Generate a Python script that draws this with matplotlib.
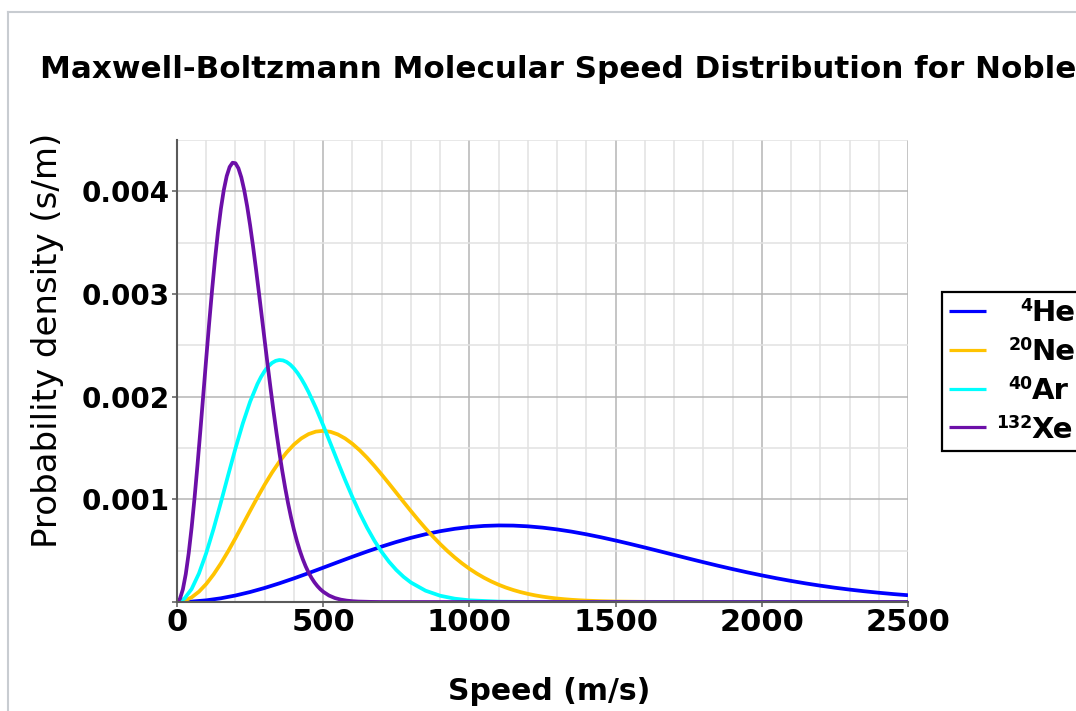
import matplotlib
matplotlib.use("Agg")
import matplotlib.pyplot as plt
from matplotlib.lines import Line2D
from matplotlib.ticker import MultipleLocator, FixedLocator, FuncFormatter

# Molecular speed distributions at room temperature (speed in m/s, density in s/m)
he_speed = [0, 50, 100, 150, 200, 250, 300, 350, 400, 450, 500, 550, 600, 650,
            700, 750, 800, 850, 900, 950, 1000, 1050, 1100, 1150, 1200, 1250,
            1300, 1350, 1400, 1450, 1500, 1550, 1600, 1650, 1700, 1750, 1800,
            1850, 1900, 1950, 2000, 2050, 2100, 2150, 2200, 2250, 2300, 2350,
            2400, 2450, 2500]
he_density = [0.0, 0.0000041, 0.0000162, 0.0000362, 0.0000634, 0.0000973,
              0.0001370, 0.0001817, 0.0002302, 0.0002815, 0.0003344, 0.0003879,
              0.0004407, 0.0004918, 0.0005400, 0.0005847, 0.0006249, 0.0006601,
              0.0006895, 0.0007130, 0.0007302, 0.0007411, 0.0007457, 0.0007443,
              0.0007371, 0.0007245, 0.0007070, 0.0006851, 0.0006594, 0.0006304,
              0.0005989, 0.0005654, 0.0005306, 0.0004949, 0.0004589, 0.0004231,
              0.0003879, 0.0003535, 0.0003206, 0.0002890, 0.0002593, 0.0002313,
              0.0002053, 0.0001812, 0.0001592, 0.0001391, 0.0001210, 0.0001047,
              0.0000902, 0.0000772, 0.0000659]

ne_speed = [0, 25, 50, 75, 100, 125, 150, 175, 200, 225, 250, 275, 300, 325,
            350, 375, 400, 425, 450, 475, 500, 525, 550, 575, 600, 625, 650,
            675, 700, 725, 750, 775, 800, 825, 850, 875, 900, 925, 950, 975,
            1000, 1025, 1050, 1075, 1100, 1125, 1150, 1175, 1200, 1225, 1250,
            1275, 1300, 1325, 1350, 1375, 1400, 1450, 1500, 1600, 1800, 2500]
ne_density = [0.0, 0.0000114, 0.0000452, 0.0001005, 0.0001755, 0.0002681,
              0.0003755, 0.0004946, 0.0006220, 0.0007543, 0.0008876, 0.0010187,
              0.0011440, 0.0012607, 0.0013659, 0.0014575, 0.0015337, 0.0015932,
              0.0016354, 0.0016599, 0.0016671, 0.0016575, 0.0016323, 0.0015928,
              0.0015406, 0.0014775, 0.0014053, 0.0013260, 0.0012415, 0.0011535,
              0.0010639, 0.0009741, 0.0008856, 0.0007995, 0.0007168, 0.0006384,
              0.0005647, 0.0004963, 0.0004334, 0.0003760, 0.0003241, 0.0002776,
              0.0002363, 0.0002000, 0.0001682, 0.0001405, 0.0001168, 0.0000964,
              0.0000792, 0.0000646, 0.0000524, 0.0000423, 0.0000339, 0.0000270,
              0.0000214, 0.0000169, 0.0000132, 0.0000080, 0.0000047, 0.0000015,
              0.0, 0.0]

ar_speed = [0, 25, 50, 75, 100, 125, 150, 175, 200, 225, 250, 275, 287.5, 300,
            312.5, 325, 337.5, 350, 362.5, 375, 387.5, 400, 412.5, 425, 437.5,
            450, 475, 500, 525, 550, 575, 600, 625, 650, 675, 700, 725, 750,
            775, 800, 850, 900, 950, 1000, 1100, 1200, 2500]
ar_density = [0.0, 0.0000321, 0.0001266, 0.0002777, 0.0004766, 0.0007116,
              0.0009695, 0.0012359, 0.0014967, 0.0017388, 0.0019507, 0.0021233,
              0.0021929, 0.0022505, 0.0022957, 0.0023286, 0.0023489, 0.0023571,
              0.0023533, 0.0023380, 0.0023118, 0.0022754, 0.0022296, 0.0021753,
              0.0021132, 0.0020444, 0.0018905, 0.0017211, 0.0015433, 0.0013638,
              0.0011883, 0.0010210, 0.0008655, 0.0007240, 0.0005978, 0.0004873,
              0.0003922, 0.0003118, 0.0002448, 0.0001899, 0.0001103, 0.0000611,
              0.0000323, 0.0000163, 0.0000036, 0.0000007, 0.0]

xe_speed = [0, 10, 20, 30, 40, 50, 60, 70, 80, 90, 100, 110, 120, 130, 140,
            150, 160, 170, 180, 190, 200, 210, 220, 230, 240, 250, 260, 270,
            280, 290, 300, 310, 320, 330, 340, 350, 360, 370, 380, 390, 400,
            410, 420, 430, 440, 450, 460, 470, 480, 490, 500, 520, 540, 560,
            580, 600, 620, 660, 700, 2500]
xe_density = [0.0, 0.0000309, 0.0001225, 0.0002721, 0.0004748, 0.0007243,
              0.0010130, 0.0013320, 0.0016715, 0.0020220, 0.0023733, 0.0027157,
              0.0030400, 0.0033383, 0.0036033, 0.0038292, 0.0040120, 0.0041485,
              0.0042373, 0.0042786, 0.0042736, 0.0042249, 0.0041356, 0.0040101,
              0.0038532, 0.0036700, 0.0034659, 0.0032461, 0.0030159, 0.0027799,
              0.0025428, 0.0023084, 0.0020804, 0.0018609, 0.0016529, 0.0014578,
              0.0012769, 0.0011107, 0.0009597, 0.0008236, 0.0007022, 0.0005947,
              0.0005004, 0.0004184, 0.0003475, 0.0002869, 0.0002353, 0.0001918,
              0.0001554, 0.0001251, 0.0001001, 0.0000629, 0.0000386, 0.0000231,
              0.0000135, 0.0000077, 0.0000043, 0.0000013, 0.0, 0.0]

mass_numbers = ["4", "20", "40", "132"]
elements = ["He", "Ne", "Ar", "Xe"]
colors = ["#0000ff", "#ffc300", "#00ffff", "#6c0fa8"]

x_ticks = [0, 500, 1000, 1500, 2000, 2500]
y_ticks = [0.0, 0.001, 0.002, 0.003, 0.004]

W, H = 1076, 711
fig = plt.figure(figsize=(W / 100, H / 100), dpi=100)
fig.patch.set_facecolor("white")

# thin frame around the figure area
frame_kw = dict(color="#c8ccd1", lw=1.5, transform=fig.transFigure)
fig.add_artist(Line2D([8 / W, 8 / W], [0, 1 - 12 / H], **frame_kw))
fig.add_artist(Line2D([8 / W, 1], [1 - 12 / H, 1 - 12 / H], **frame_kw))

ax = fig.add_axes([177 / W, 1 - 602 / H, (908 - 177) / W, (602 - 140) / H])

series = [(he_speed, he_density), (ne_speed, ne_density),
          (ar_speed, ar_density), (xe_speed, xe_density)]
handles = []
for (sx, sy), col, el in zip(series, colors, elements):
    ln, = ax.plot(sx, sy, color=col, lw=2.7, solid_joinstyle="round",
                  solid_capstyle="butt", label=el)
    handles.append(ln)

ax.set_xlim(0, 2500)
ax.set_ylim(0, 0.0045)

ax.xaxis.set_major_locator(FixedLocator(x_ticks))
ax.xaxis.set_minor_locator(MultipleLocator(100))
ax.yaxis.set_major_locator(FixedLocator(y_ticks))
ax.yaxis.set_minor_locator(MultipleLocator(0.0005))
ax.yaxis.set_major_formatter(FuncFormatter(lambda v, p: "" if v == 0 else f"{v:.3f}"))
ax.xaxis.set_major_formatter(FuncFormatter(lambda v, p: f"{int(round(v))}"))

ax.grid(which="major", color="#b5b5b5", lw=1.1)
ax.grid(which="minor", color="#e2e2e2", lw=1.1)
ax.set_axisbelow(True)

for side in ("top", "right"):
    ax.spines[side].set_visible(False)
for side in ("left", "bottom"):
    ax.spines[side].set_color("#5a5a5a")
    ax.spines[side].set_linewidth(1.5)

ax.tick_params(which="major", length=3.8, width=1.1, color="#5a5a5a")
ax.tick_params(which="minor", length=0)
ax.tick_params(axis="x", labelsize=22, pad=0.5)
ax.tick_params(axis="y", labelsize=20, pad=1.5)
for lab in ax.get_xticklabels() + ax.get_yticklabels():
    lab.set_fontweight("bold")

ax.set_xlabel("Speed (m/s)", fontsize=21.5, fontweight="bold")
ax.xaxis.set_label_coords((549 - 177) / 731, (602 - 692) / 462)
ax.xaxis.label.set_verticalalignment("center")
ax.set_ylabel("Probability density (s/m)", fontsize=24.5)
ax.yaxis.set_label_coords((47 - 177) / 731, (602 - 340) / 462)
ax.yaxis.label.set_verticalalignment("center")

fig.text(40 / W, 1 - 70 / H,
         "Maxwell-Boltzmann Molecular Speed Distribution for Noble",
         ha="left", va="center", fontsize=22.3, fontweight="bold")

leg = ax.legend(handles=handles, labels=elements, loc="upper left",
                bbox_to_anchor=(942 / W, 1 - 292 / H),
                bbox_transform=fig.transFigure, borderaxespad=0,
                prop={"size": 21, "weight": "bold"}, frameon=True,
                fancybox=False, framealpha=1, edgecolor="black",
                handlelength=1.27, handletextpad=1.55, borderpad=0.25,
                labelspacing=0.37)
leg.get_frame().set_linewidth(1.6)
for lh in leg.get_lines():
    lh.set_linewidth(2.3)

# mass numbers as right-aligned prescripts in front of each element symbol
fig.canvas.draw()
renderer = fig.canvas.get_renderer()
for txt, num in zip(leg.get_texts(), mass_numbers):
    bb = txt.get_window_extent(renderer)
    cy = 0.5 * (bb.y0 + bb.y1)
    fig.text((bb.x0 + 1) / W, (cy + 2) / H, num, ha="right", va="baseline",
             fontsize=12.5, fontweight="bold")

fig.savefig("out.png", dpi=100, facecolor="white")
